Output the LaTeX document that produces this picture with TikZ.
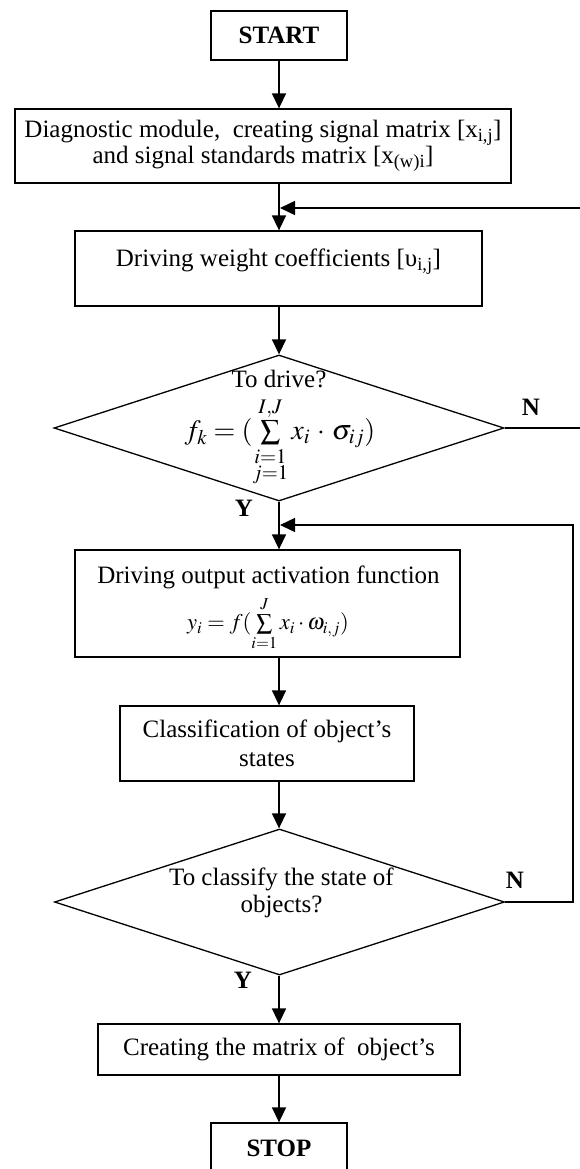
\documentclass[tikz,border=0pt]{standalone}
\usepackage{amsmath}
\usepackage{mathptmx}
\usepackage{fontspec}
\setmainfont{Liberation Serif}
\usetikzlibrary{shapes.geometric,arrows.meta}
\newcommand\fsz{\fontsize{25}{25}\selectfont}
\newcommand\fsm{\fontsize{22.5}{22.5}\selectfont}
\newcommand\fsf{\fontsize{28}{28}\selectfont}
\tikzset{
  box/.style={draw, line width=1.3pt, inner sep=2pt, align=center, font=\fsz},
  dia/.style={diamond, draw, line width=1.3pt, inner sep=0pt, minimum width=450pt, minimum height=146pt},
  txt/.style={inner sep=0pt, align=center, font=\fsz},
  lbl/.style={inner sep=0pt, font=\fsz\bfseries},
  flow/.style={line width=1.5pt, -{Triangle[width=14pt,length=15pt]}}
}
\begin{document}
\begin{tikzpicture}[x=1pt,y=-1pt]
\useasboundingbox (0,0) rectangle (579,1169);
% boxes
\node[box, minimum width=136pt, minimum height=49pt] (start) at (279,35.5) {\textbf{START}};
\node[box, minimum width=496pt, minimum height=74pt] (diag) at (263,146)
  {Diagnostic module,\ \ creating signal matrix [x\textsubscript{i,j}]\\and signal standards matrix [x\textsubscript{(w)i}]};
\node[box, minimum width=407pt, minimum height=75pt] (weight) at (278.5,268.5)
  {Driving weight coefficients [υ\textsubscript{i,j}]\\[-4pt]\mbox{}};
\node[dia] (d1) at (279,428) {};
\node[txt] (d1t) at (279,379) {To drive?};
\node[txt, font=\fsf] (d1f) at (280,442) {$f_k = (\sum\limits_{\substack{i=1\\ j=1}}^{I,J} x_i \,\cdot\, \sigma_{ij})$};
\node[box, minimum width=385pt, minimum height=107pt] (out) at (267.5,603.5) {};
\node[txt] (outt) at (268.5,577) {Driving output activation function};
\node[txt, font=\fsm] (outf) at (268,624) {$y_i = f(\sum\limits_{i=1}^{J} x_i \cdot \omega_{i,j})$};
\node[box, minimum width=294pt, minimum height=75pt] (cls) at (267,743.5)
  {Classification of object’s\\[4pt]states};
\node[dia] (d2) at (279.5,902) {};
\node[txt] (d2t) at (281.5,893) {To classify the state of\\[2pt]objects?};
\node[box, minimum width=362pt, minimum height=51pt] (create) at (279,1049.5) {Creating the matrix of\ \ object’s};
\node[box, minimum width=136pt, minimum height=50pt] (stop) at (279,1148) {\textbf{STOP}};
% labels
\node[lbl] (n1) at (531,407) {N};
\node[lbl] (y1) at (244,508) {Y};
\node[lbl] (n2) at (515,880) {N};
\node[lbl] (y2) at (243,980) {Y};
% helper coordinates
\coordinate (fb1) at (280,208);
\coordinate (c1) at (583,208);
\coordinate (fb2) at (280,525);
\coordinate (c2) at (573,525);
% connectors
\draw[flow] (start.south) -- (start.south |- diag.north);
\draw[flow] (start.south |- diag.south) -- (start.south |- weight.north);
\draw[flow] (start.south |- weight.south) -- (start.south |- d1.north);
\draw[flow] (start.south |- d1.south) -- (start.south |- out.north);
\draw[flow] (start.south |- out.south) -- (start.south |- cls.north);
\draw[flow] (start.south |- cls.south) -- (start.south |- d2.north);
\draw[flow] (start.south |- d2.south) -- (start.south |- create.north);
\draw[flow] (start.south |- create.south) -- (start.south |- stop.north);
\draw[flow] (d1.east) -| (c1) -- (fb1);
\draw[flow] (d2.east) -| (c2) -- (fb2);
\end{tikzpicture}
\end{document}
